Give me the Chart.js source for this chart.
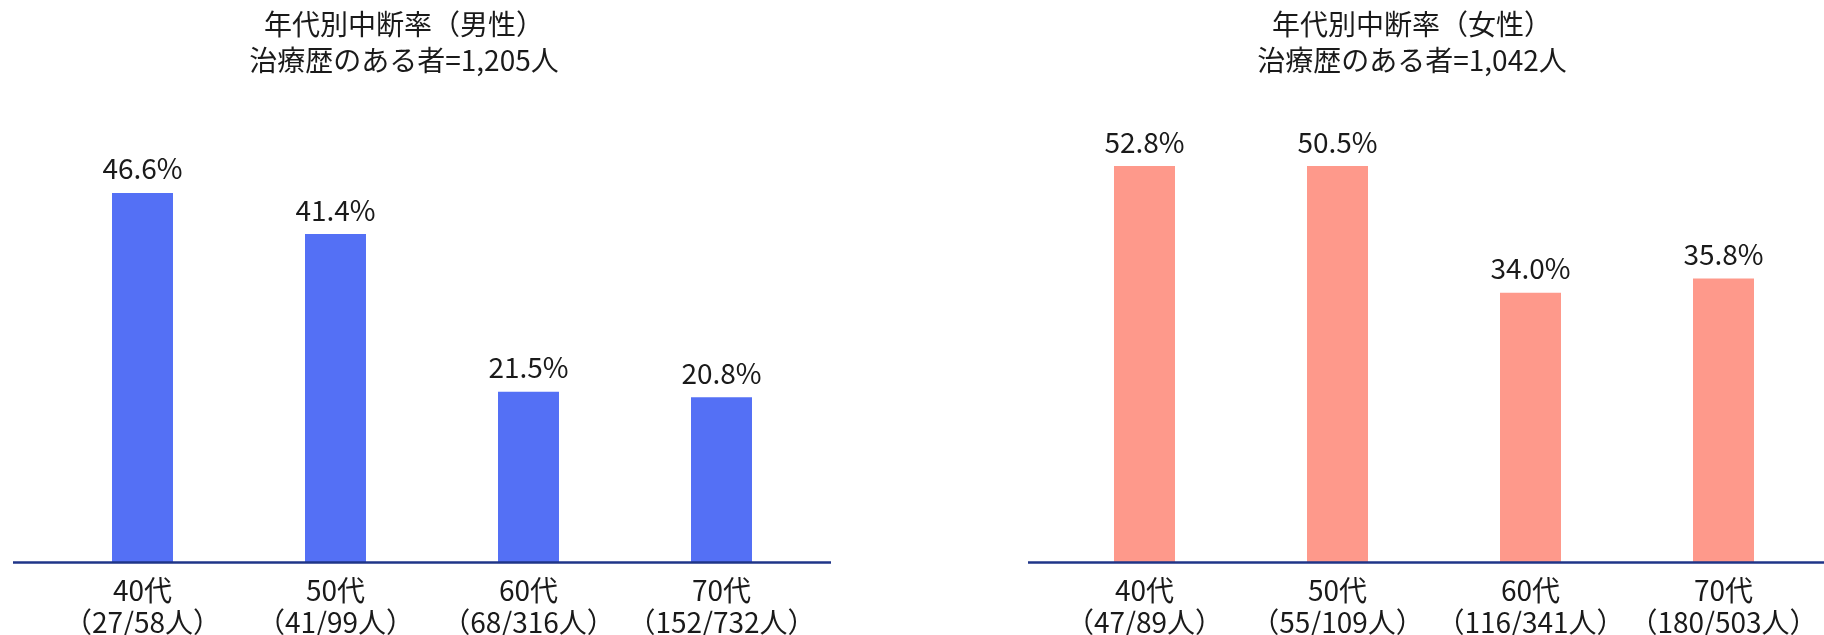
<!DOCTYPE html>
<html><head><meta charset="utf-8">
<script src="https://cdn.jsdelivr.net/npm/chart.js@4/dist/chart.umd.min.js"></script>
<style>
html,body{margin:0;padding:0;background:#fff;}
#wrap{position:relative;width:1824px;height:635px;overflow:hidden;}
.c{position:absolute;top:0;width:912px;height:635px;}
</style></head><body>
<div id="wrap">
  <div class="c" style="left:0"><canvas id="male" width="912" height="635"></canvas></div>
  <div class="c" style="left:912px"><canvas id="female" width="912" height="635"></canvas></div>
</div>
<script>
const categories = ['40代', '50代', '60代', '70代'];
const maleCounts = ['（27/58人）', '（41/99人）', '（68/316人）', '（152/732人）'];
const femaleCounts = ['（47/89人）', '（55/109人）', '（116/341人）', '（180/503人）'];
const maleRates = [46.6, 41.4, 21.5, 20.8];
const femaleRates = [52.8, 50.5, 34.0, 35.8];
const maleTitle = ['年代別中断率（男性）', '治療歴のある者=1,205人'];
const femaleTitle = ['年代別中断率（女性）', '治療歴のある者=1,042人'];

const FONT = '"Noto Sans CJK JP", "Noto Sans", sans-serif';
const TEXT = '#1a1a1a';

const deco = {
  id: 'deco',
  afterDatasetsDraw(chart, args, o) {
    const ctx = chart.ctx, a = chart.chartArea;
    ctx.save();
    // axis line
    ctx.strokeStyle = o.axisColor;
    ctx.lineWidth = 2.5;
    ctx.beginPath();
    ctx.moveTo(a.left - o.lineLeft, a.bottom + 0.5);
    ctx.lineTo(a.right + o.lineRight, a.bottom + 0.5);
    ctx.stroke();
    // value labels
    ctx.font = '28px ' + FONT;
    ctx.fillStyle = TEXT;
    ctx.textAlign = 'center';
    ctx.textBaseline = 'alphabetic';
    const meta = chart.getDatasetMeta(0);
    const vals = chart.data.datasets[0].data;
    meta.data.forEach((bar, i) => {
      const y = Math.max(bar.y, a.top);
      ctx.fillText(vals[i].toFixed(1) + '%', bar.x, y - 13.5);
    });
    // title
    const cx = (a.left + a.right) / 2 + o.titleShift;
    o.title.forEach((t, i) => ctx.fillText(t, cx, o.titleBase + i * o.titleStep));
    ctx.restore();
  }
};

function makeChart(id, rates, counts, color, title, pad, titleShift, lineLeft, lineRight) {
  return new Chart(document.getElementById(id), {
    type: 'bar',
    data: {
      labels: categories.map((c, i) => [c, counts[i]]),
      datasets: [{ data: rates, backgroundColor: color, borderWidth: 0,
        barPercentage: 0.316, categoryPercentage: 1 }]
    },
    options: {
      responsive: false,
      animation: false,
      devicePixelRatio: 1,
      layout: { padding: pad },
      plugins: {
        legend: { display: false },
        tooltip: { enabled: false },
        title: { display: false },
        deco: { title, titleShift, titleBase: 35, titleStep: 36,
          axisColor: '#1f3588', lineLeft, lineRight }
      },
      scales: {
        y: { display: false, min: 0, max: 50 },
        x: {
          grid: { display: false, drawTicks: false },
          border: { display: false },
          ticks: { color: TEXT, padding: 12, maxRotation: 0, autoSkip: false,
            font: { family: FONT, size: 28, lineHeight: 1.15 } },
          afterFit(s) { s.height = 73; s.paddingLeft = 0; s.paddingRight = 0; }
        }
      }
    },
    plugins: [deco]
  });
}

makeChart('male', maleRates, maleCounts, '#5470f5', maleTitle,
  { left: 46, right: 94, top: 166, bottom: 0 }, -28, 33, 13);
makeChart('female', femaleRates, femaleCounts, '#fe998b', femaleTitle,
  { left: 136, right: 4, top: 166, bottom: 0 }, -22, 20, 4);
</script>
</body></html>
